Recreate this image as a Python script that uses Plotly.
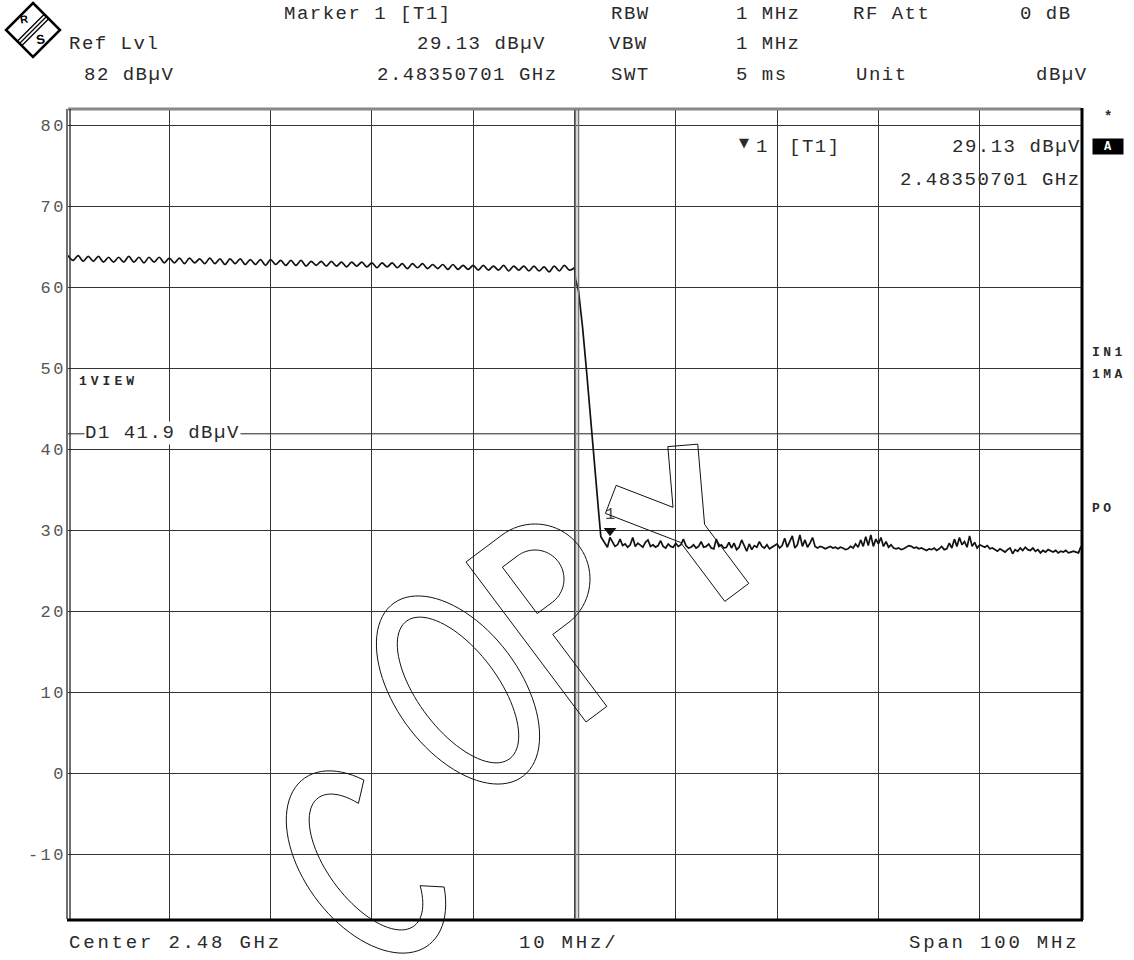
import numpy as np
import plotly.graph_objects as go

# ---------------- data ----------------
f_start_ghz, f_stop_ghz = 2.43, 2.53
y_min, y_max = -18, 82
ytick_vals = [80, 70, 60, 50, 40, 30, 20, 10, 0, -10]

passband_step_ghz = 0.0005
passband_levels = [
    63.9, 63.3, 63.9, 63.2, 63.8, 63.2, 63.8, 63.1, 63.7, 63.1,
    63.7, 63.1, 63.8, 63.1, 63.7, 63.0, 63.7, 63.1, 63.7, 63.0,
    63.6, 63.0, 63.6, 62.9, 63.6, 63.0, 63.5, 62.9, 63.6, 62.9,
    63.5, 62.8, 63.5, 62.9, 63.5, 62.8, 63.4, 62.8, 63.4, 62.7,
    63.4, 62.8, 63.3, 62.7, 63.3, 62.7, 63.3, 62.6, 63.2, 62.7,
    63.2, 62.6, 63.2, 62.6, 63.1, 62.5, 63.1, 62.6, 63.1, 62.5,
    63.0, 62.4, 63.0, 62.5, 63.0, 62.4, 62.9, 62.3, 62.9, 62.4,
    62.9, 62.3, 62.8, 62.3, 62.8, 62.2, 62.8, 62.2, 62.7, 62.2,
    62.7, 62.1, 62.7, 62.1, 62.6, 62.1, 62.7, 62.0, 62.6, 62.1,
    62.6, 62.0, 62.6, 62.0, 62.5, 61.9, 62.6, 62.0, 62.7, 62.1,
]
edge_freq = [2.4800, 2.4801, 2.4804, 2.4808, 2.4812, 2.4816, 2.4820, 2.4824, 2.4826]
edge_levels = [62.4, 61.0, 59.5, 55.0, 49.5, 44.0, 38.0, 32.0, 29.2]

noise_start_ghz = 2.4830
noise_step_ghz = 0.00025
noise_levels = [
    28.3, 27.9, 29.1, 28.6, 28.0, 28.2, 28.9, 28.1, 28.3, 27.9,
    28.2, 29.1, 28.0, 28.4, 28.1, 27.9, 28.5, 28.8, 28.0, 28.2,
    27.9, 28.1, 28.7, 28.0, 27.8, 28.3, 28.0, 27.9, 28.4, 28.0,
    28.2, 28.9, 28.1, 27.8, 27.9, 28.2, 27.8, 28.0, 28.6, 27.9,
    28.0, 28.3, 27.8, 27.7, 28.9, 28.0, 28.2, 27.8, 27.9, 28.5,
    27.8, 28.4, 27.6, 27.9, 28.8, 28.0, 27.4, 28.3, 27.6, 28.1,
    27.9, 28.6, 28.0, 27.8, 28.2, 27.7, 27.9, 28.1, 28.3, 27.8,
    28.1, 29.0, 27.9, 28.6, 29.3, 27.8, 28.2, 29.4, 28.0, 28.8,
    27.9, 28.4, 29.1, 28.0, 27.8, 28.0, 27.9, 27.7, 27.9, 28.0,
    27.8, 27.9, 27.7, 27.9, 27.8, 27.6, 27.7, 28.0, 27.8, 28.3,
    27.9, 28.8, 28.0, 29.2, 28.1, 29.4, 28.0, 28.9, 28.3, 29.1,
    28.0, 28.6, 27.9, 28.2, 27.8, 27.7, 27.8, 27.6, 27.7, 27.9,
    28.1, 28.0, 27.8, 27.9, 27.7, 27.8, 27.6, 27.5, 27.7, 27.6,
    27.8, 27.5, 27.7, 28.0, 27.6, 27.7, 28.4, 27.8, 28.9, 28.0,
    29.1, 28.2, 28.6, 27.9, 29.3, 28.0, 28.5, 27.8, 28.2, 28.0,
    27.9, 28.1, 27.7, 27.8, 27.6, 27.4, 27.7, 27.5, 27.3, 27.6,
    27.8, 27.1, 27.6, 27.4, 27.8, 27.5, 27.9, 27.6, 27.5, 27.8,
    27.4, 27.6, 27.2, 27.5, 27.3, 27.6, 27.4, 27.3, 27.5, 27.2,
    27.4, 27.3, 27.5, 27.2, 27.3, 27.4, 27.3, 27.2, 28.0,
]

marker_freq_ghz = 2.48350701
marker_level = 29.13
display_line_d1 = 41.9

# ---------------- build trace ----------------
passband_freq = list(np.round(f_start_ghz + passband_step_ghz * np.arange(len(passband_levels)), 6))
noise_freq = list(np.round(noise_start_ghz + noise_step_ghz * np.arange(len(noise_levels)), 6))

# ---------------- geometry helpers (pixels -> paper) ----------------
W, H = 1134, 960
PL, PR, PT, PB = 68, 1081, 109, 919


def ppx(x):
    return (x - PL) / (PR - PL)


def ppy(y):
    return (PB - y) / (PB - PT)


MONO = "Liberation Mono, Courier New, monospace"
INK = "#2a2a2a"

fig = go.Figure()
fig.add_trace(go.Scatter(x=passband_freq + edge_freq[:1], y=passband_levels + edge_levels[:1],
                         mode="lines", line=dict(color="#111", width=1.7, shape="spline", smoothing=0.9),
                         hoverinfo="skip", showlegend=False))
fig.add_trace(go.Scatter(x=edge_freq + noise_freq, y=edge_levels + noise_levels, mode="lines",
                         line=dict(color="#111", width=1.7), hoverinfo="skip",
                         showlegend=False))
# marker
fig.add_trace(go.Scatter(x=[marker_freq_ghz], y=[marker_level + 0.8], mode="markers+text",
                         marker=dict(symbol="triangle-down", size=11, color="#111"),
                         text=["1"], textposition="top center",
                         textfont=dict(family=MONO, size=17, color="#444"),
                         showlegend=False, hoverinfo="skip"))

annotations = []


def txt(s, x, y, anchor="left", size=19, spacing=1.5, bold=False, color=INK,
        bg=None, family=MONO, pad=0):
    t = s
    if spacing:
        t = f'<span style="letter-spacing:{spacing}px">{s}</span>'
    if bold:
        t = f"<b>{t}</b>"
    d = dict(text=t, x=ppx(x), y=ppy(y), xref="paper", yref="paper",
             xanchor=anchor, yanchor="middle", showarrow=False,
             font=dict(family=family, size=size, color=color), borderpad=pad)
    if bg:
        d["bgcolor"] = bg
    annotations.append(d)


# header rows
txt("Marker 1 [T1]", 283, 14)
txt("RBW", 610, 14)
txt("1 MHz", 735, 14)
txt("RF Att", 852, 14)
txt("0 dB", 1073, 14, anchor="right")
txt("Ref Lvl", 68, 44)
txt("29.13 dBµV", 547, 44, anchor="right")
txt("VBW", 608, 44)
txt("1 MHz", 735, 44)
txt("82 dBµV", 83, 75)
txt("2.48350701 GHz", 559, 75, anchor="right")
txt("SWT", 610, 75)
txt("5 ms", 735, 75)
txt("Unit", 855, 75)
txt("dBµV", 1089, 75, anchor="right")

# in-plot marker info
txt("▼", 738, 142, size=13, spacing=0, family="DejaVu Sans")
txt("1", 755, 147)
txt("[T1]", 788, 147)
txt("29.13 dBµV", 1082, 147, anchor="right")
txt("2.48350701 GHz", 1082, 180, anchor="right")

# right side status
txt("*", 1108, 117, anchor="center", size=14, spacing=0, bold=True)
annotations.append(dict(text="<b>A</b>", x=ppx(1108), y=ppy(146), xref="paper", yref="paper",
                        xanchor="center", yanchor="middle", showarrow=False,
                        font=dict(family=MONO, size=12, color="white"),
                        bgcolor="black", width=30, height=15, borderpad=0))
txt("IN1", 1091, 352, size=13, spacing=3.5, bold=True)
txt("1MA", 1091, 374, size=13, spacing=3.5, bold=True)
txt("PO", 1091, 508, size=13, spacing=3.5, bold=True)

# left labels
txt("1VIEW", 78, 381, size=13, spacing=4, bold=True)
txt("D1 41.9 dBµV", 84, 433, bg="white", spacing=1.5)

# footer
txt("Center 2.48 GHz", 68, 943, spacing=2.8)
txt("10 MHz/", 518, 943, spacing=2.8)
txt("Span 100 MHz", 1080, 943, anchor="right", spacing=2.8)

# logo letters
annotations.append(dict(text="<b>R</b>", x=ppx(24), y=ppy(19), xref="paper", yref="paper",
                        xanchor="center", yanchor="middle", showarrow=False,
                        font=dict(family="Liberation Sans", size=11, color="black"),
                        textangle=-10))
annotations.append(dict(text="<b>S</b>", x=ppx(40), y=ppy(39), xref="paper", yref="paper",
                        xanchor="center", yanchor="middle", showarrow=False,
                        font=dict(family="Liberation Sans", size=13, color="black"),
                        textangle=-10))

shapes = []


def pline(x0, y0, x1, y1, color="black", width=1):
    shapes.append(dict(type="line", xref="paper", yref="paper",
                       x0=ppx(x0), y0=ppy(y0), x1=ppx(x1), y1=ppy(y1),
                       line=dict(color=color, width=width)))


def ppath(points_list, color="black", width=1):
    s = ""
    for pts in points_list:
        s += "M" + "L".join(f"{ppx(x):.5f},{ppy(y):.5f}" for x, y in pts) + "Z"
    shapes.append(dict(type="path", xref="paper", yref="paper", path=s,
                       line=dict(color=color, width=width), fillcolor="rgba(0,0,0,0)"))


# logo diamond and stripes
ppath([[(33, 3), (60, 30), (33, 57), (6, 30)]], width=2.5)
for k in (-2.2, 0, 2.2):
    pline(20 + k, 43 + k, 46.5 + k, 16.5 + k, width=1.3)

# D1 display line (in data y)
shapes.append(dict(type="line", xref="paper", yref="y", x0=0, x1=1,
                   y0=display_line_d1, y1=display_line_d1,
                   line=dict(color="#222", width=1), layer="below"))

# frame
pline(PL, PT, PR, PT, color="#888", width=3)
pline(67, PT, 67, PB, color="#222", width=1.3)
pline(70, PT, 70, PB, color="#222", width=1.3)
pline(PR + 1, PT - 1, PR + 1, PB + 1, color="black", width=3)
pline(PL - 1, PB + 1, PR + 2, PB + 1, color="black", width=3)
# center double line
pline(575.5, PT, 575.5, PB, color="#777", width=1.6)
pline(578.5, PT, 578.5, PB, color="#777", width=1.6)

# ---------------- COPY watermark (outlined letters) ----------------
RIGHT = np.array([0.8, -0.6])
UP = np.array([-0.6, -0.8])


def place(center, pts):
    c = np.asarray(center, dtype=float)
    return [tuple(c + u * RIGHT + v * UP) for u, v in pts]


# C
a, b, sw, al = 62.0, 104.0, 24.0, np.radians(40)
t = np.linspace(al, 2 * np.pi - al, 70)
Cpts = [(a * np.cos(tt), b * np.sin(tt)) for tt in t] + \
       [((a - sw) * np.cos(tt), (b - sw) * np.sin(tt)) for tt in t[::-1]]
ppath([place((366, 862), Cpts)], color="#111")
# O
a, b, sw = 62.0, 108.0, 22.0
t = np.linspace(0, 2 * np.pi, 90)
ppath([place((458, 690), [(a * np.cos(tt), b * np.sin(tt)) for tt in t]),
       place((458, 690), [((a - sw) * np.cos(tt), (b - sw) * np.sin(tt)) for tt in t])], color="#111")
# P
t = np.linspace(np.pi / 2, -np.pi / 2, 40)
Pout = [(-50, -100), (-50, 100), (-5, 100)] + [(-5 + 55 * np.cos(tt), 45 + 55 * np.sin(tt)) for tt in t] + \
       [(-24, -10), (-24, -100)]
Pin = [(-24, 74), (-5, 74)] + [(-5 + 29 * np.cos(tt), 45 + 29 * np.sin(tt)) for tt in t] + [(-24, 16)]
ppath([place((566, 612), Pout), place((566, 612), Pin)], color="#111")
# Y
Ypts = [(-57.7, 64.0), (-32.3, 80.0), (0, 28.3), (32.3, 80.0), (57.7, 64.0),
        (15, -4.3), (15, -78), (-15, -78), (-15, -4.3)]
ppath([place((690, 530), Ypts)], color="#111")

fig.update_layout(
    width=W, height=H,
    margin=dict(l=PL, r=W - PR, t=PT, b=H - PB, pad=0),
    paper_bgcolor="white", plot_bgcolor="white",
    showlegend=False,
    xaxis=dict(range=[f_start_ghz, f_stop_ghz], tick0=f_start_ghz, dtick=0.01,
               showgrid=True, gridcolor="#333", gridwidth=1, showticklabels=False,
               zeroline=False, showline=False, ticks=""),
    yaxis=dict(range=[y_min, y_max], tickvals=ytick_vals,
               ticktext=[f'<span style="letter-spacing:2.5px">{v}</span>' for v in ytick_vals],
               tickfont=dict(family=MONO, size=17, color="#555"),
               showgrid=True, gridcolor="#333", gridwidth=1,
               zeroline=False, showline=False, ticks="", ticklabelstandoff=1),
    annotations=annotations,
    shapes=shapes,
)

fig.write_html("out.html", config={"displayModeBar": False},
               post_script="document.body.style.margin='0px';")
